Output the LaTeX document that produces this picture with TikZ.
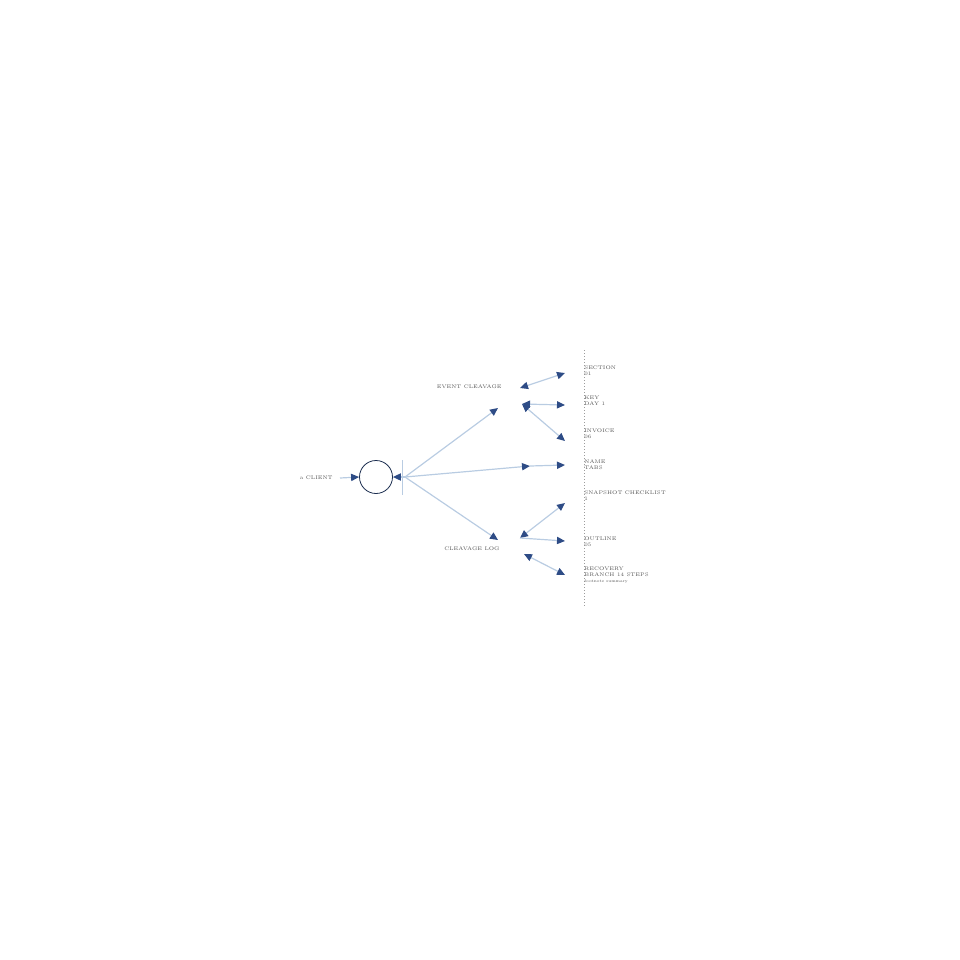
\documentclass[tikz,border=0pt]{standalone}
\usepackage{tikz}
\usetikzlibrary{arrows.meta}
\definecolor{inkblue}{HTML}{2E4C86}
\definecolor{paleblue}{HTML}{B9CCE2}
\definecolor{labelgrey}{HTML}{5A5A5A}
\tikzset{
  link/.style={draw=paleblue, line width=0.6pt, -{Triangle[length=4pt,width=3.6pt,color=inkblue,fill=inkblue]}},
  blink/.style={draw=paleblue, line width=0.6pt, {Triangle[length=4pt,width=3.6pt,color=inkblue,fill=inkblue]}-{Triangle[length=4pt,width=3.6pt,color=inkblue,fill=inkblue]}},
  tag/.style={font=\fontsize{2.6}{3}\selectfont, text=labelgrey, inner sep=0pt, align=left}
}
\begin{document}
\begin{tikzpicture}[x=0.5pt,y=-0.5pt]
        \useasboundingbox (0,0) rectangle (960,960);
        % source
        \node[circle, draw=inkblue!60!black, line width=0.4pt, minimum size=16.5pt, inner sep=0pt] (core) at (376,477){};
        \node[tag, anchor=east] (client) at (333,478){a CLIENT};
        \coordinate (feed) at (340,478);
        \coordinate (hub) at (405,477);
        \draw[draw=paleblue, line width=0.5pt] (402,460) -- (402,495);
        \draw[link] (feed) -- (core.west);
        \draw[link] (hub) -- (core.east);
        % first split
        \coordinate (up) at (498,408);
        \coordinate (mid) at (530,466);
        \coordinate (low) at (498,540);
        \draw[link] (hub) -- (up);
        \draw[link] (hub) -- (mid);
        \draw[link] (hub) -- (low);
        \node[tag, anchor=east] (uplabel) at (502,387){EVENT CLEAVAGE};
        \node[tag, anchor=east] (lowlabel) at (500,549){CLEAVAGE LOG};
        % upper branch
        \coordinate (ua) at (520,388);
        \coordinate (ub) at (522,404);
        \coordinate (t1) at (565,373);
        \coordinate (t2) at (565,405);
        \coordinate (t3) at (565,441);
        \draw[blink] (ua) -- (t1);
        \draw[blink] (ub) -- (t2);
        \draw[blink] (ub) -- (t3);
        % middle branch
        \coordinate (t4) at (565,465);
        \draw[link] (mid) -- (t4);
        % lower branch
        \coordinate (la) at (520,538);
        \coordinate (lb) at (524,554);
        \coordinate (t5) at (565,503);
        \coordinate (t6) at (565,541);
        \coordinate (t7) at (565,575);
        \draw[blink] (la) -- (t5);
        \draw[link] (la) -- (t6);
        \draw[blink] (lb) -- (t7);
        % index column
        \draw[draw=labelgrey!60, line width=0.3pt, dash pattern=on 0.6pt off 0.9pt] (584,350) -- (584,606);
        \node[tag, anchor=north west] (i1) at (584,365){SECTION\\01};
        \node[tag, anchor=north west] (i2) at (584,396){KEY\\DAY 1};
        \node[tag, anchor=north west] (i3) at (584,428){INVOICE\\06};
        \node[tag, anchor=north west] (i4) at (584,459){NAME\\TABS};
        \node[tag, anchor=north west] (i5) at (584,490){SNAPSHOT CHECKLIST\\1};
        \node[tag, anchor=north west] (i6) at (584,536){OUTLINE\\05};
        \node[tag, anchor=north west] (i7) at (584,566){RECOVERY\\BRANCH 14 STEPS\\{\fontsize{2}{3}\selectfont footnote summary}};
    \end{tikzpicture}
\end{document}
